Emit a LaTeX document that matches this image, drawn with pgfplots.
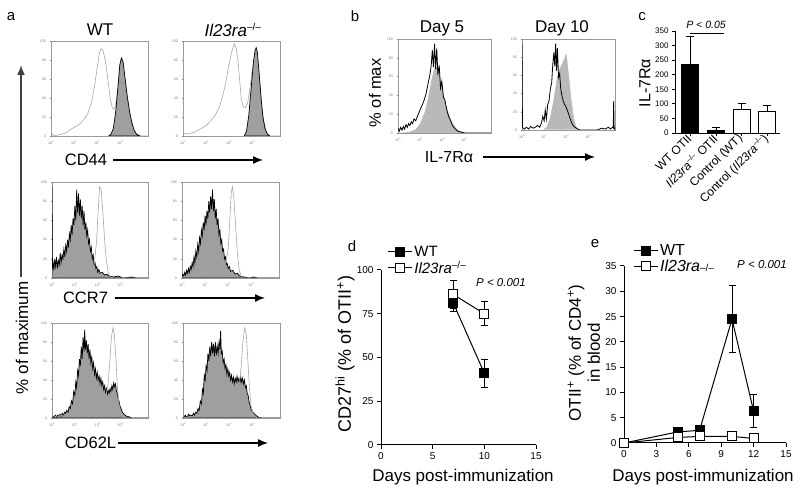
\documentclass[border=0pt]{standalone}
\usepackage{pgfplots}
\pgfplotsset{compat=1.18}
\usepackage{fontspec}
\setmainfont{Liberation Sans}
\usetikzlibrary{arrows.meta}
\newcommand{\fs}[1]{\fontsize{#1}{#1}\selectfont}
\pgfplotsset{
 hist/.style={scale only axis, xmin=0, xmax=4.2, ymin=0, ymax=100,
  xtick={0,1,2,3}, xticklabels={10\textsuperscript{0},10\textsuperscript{1},10\textsuperscript{2},10\textsuperscript{3}},
  ytick={0,20,40,60,80,100}, tick pos=left, tick align=outside, major tick length=1.5pt,
  tick style={gray, line width=0.3pt}, axis line style={gray!80, line width=0.6pt},
  tick label style={font=\fs{3.6}, text=gray}, xticklabel style={yshift=0.5pt},
  /pgf/number format/assume math mode=true, anchor=south west},
 filledh/.style={draw=black, fill=gray!75, line width=0.7pt},
 grayh/.style={gray!70, line width=0.6pt},
 graph/.style={scale only axis, anchor=south west, axis lines*=left, axis line style={line width=1pt,-},
  tick align=outside, major tick length=4pt, tick style={line width=1pt, black},
  tick label style={font=\fs{10}}, /pgf/number format/assume math mode=true, clip=false,
  legend style={draw=none, fill=none, font=\fs{15}, row sep=-1pt, inner sep=0pt, anchor=north west},
  legend cell align=left,
  legend image code/.code={\draw[##1, mark repeat=2, mark phase=2] plot coordinates {(0pt,0pt)(12pt,0pt)(24pt,0pt)};}},
 ebar/.style={error bars/.cd, y dir=both, y explicit, error bar style={line width=1pt, solid},
  error mark options={rotate=90, mark size=3.5pt, line width=1pt}}
}
\begin{document}
\begin{tikzpicture}[x=1pt,y=1pt]
\useasboundingbox (0,0) rectangle (800,494);
% ---------------- panel a
\node[font=\fs{15}] at (11,477) {a};
\node[font=\fs{17}] at (100,464) {WT};
\node[font=\fs{17}] at (233,464) {\textit{Il23ra}\textsuperscript{\fs{10}–/–}};
\begin{axis}[hist, width=97pt, height=95pt, at={(51pt,358pt)}]
\addplot[grayh] coordinates {(0,14)(0.03,3)(0.1,0)(0.3,1)(0.5,2)(0.7,4)(0.85,7)(1.0,9)(1.15,11)(1.3,14)(1.45,18)(1.6,24)(1.75,35)(1.9,55)(2.0,72)(2.1,88)(2.17,92)(2.25,90)(2.35,80)(2.45,62)(2.55,42)(2.65,30)(2.72,28)(2.8,32)(2.9,52)(2.98,75)(3.05,82)(3.12,78)(3.2,62)(3.3,42)(3.4,26)(3.5,14)(3.6,6)(3.7,2)(3.85,0)(4.2,0)};
\addplot[filledh] coordinates {(2.5,0)(2.6,2)(2.7,8)(2.8,25)(2.9,52)(2.98,75)(3.05,82)(3.12,78)(3.2,62)(3.3,42)(3.4,26)(3.5,14)(3.6,6)(3.7,2)(3.85,0)} \closedcycle;
\end{axis}
\begin{axis}[hist, width=97pt, height=95pt, at={(183pt,358pt)}]
\addplot[grayh] coordinates {(0,32)(0.03,3)(0.2,2)(0.5,4)(0.8,8)(1.0,11)(1.2,16)(1.4,22)(1.6,32)(1.8,50)(1.95,70)(2.1,88)(2.22,97)(2.3,93)(2.38,80)(2.45,60)(2.52,40)(2.6,31)(2.7,30)(2.8,35)(2.9,50)(3.0,70)(3.08,80)(3.18,85)(3.25,75)(3.33,55)(3.42,30)(3.5,15)(3.6,5)(3.72,0)(4.2,0)};
\addplot[filledh] coordinates {(2.65,0)(2.75,5)(2.85,22)(2.95,50)(3.05,78)(3.12,90)(3.17,93)(3.22,88)(3.3,65)(3.38,40)(3.46,20)(3.55,8)(3.65,2)(3.75,0)} \closedcycle;
\end{axis}
\begin{axis}[hist, width=96pt, height=96pt, at={(52pt,216pt)}]
\addplot[filledh] coordinates {(0,95)(0.02,10)(0.04,18)(0.08,8)(0.12,20)(0.16,12)(0.2,22)(0.24,10)(0.28,18)(0.32,14)(0.36,26)(0.4,16)(0.44,24)(0.48,20)(0.52,30)(0.56,22)(0.6,34)(0.64,28)(0.68,40)(0.72,32)(0.76,46)(0.8,40)(0.84,55)(0.88,45)(0.92,62)(0.96,55)(1.0,75)(1.04,60)(1.08,92)(1.12,68)(1.16,88)(1.2,65)(1.24,82)(1.28,62)(1.32,75)(1.36,55)(1.4,70)(1.44,50)(1.48,58)(1.52,44)(1.56,50)(1.6,36)(1.64,40)(1.68,28)(1.72,32)(1.76,20)(1.8,24)(1.84,14)(1.88,16)(1.92,10)(1.96,12)(2.0,6)(2.05,9)(2.1,5)(2.2,6)(2.3,3)(2.4,4)(2.5,2)(2.7,1)(2.9,2)(3.1,0)(3.5,1)(3.7,0)(4.2,0)} \closedcycle;
\addplot[grayh] coordinates {(0,1)(0.5,3)(1.0,6)(1.4,9)(1.7,11)(1.85,15)(1.95,38)(2.02,70)(2.08,95)(2.15,92)(2.22,70)(2.3,40)(2.38,18)(2.46,6)(2.55,1)(2.7,0)(4.2,0)};
\end{axis}
\begin{axis}[hist, width=97pt, height=96pt, at={(182pt,216pt)}]
\addplot[filledh] coordinates {(0,0)(0.04,4)(0.08,2)(0.12,6)(0.16,3)(0.2,8)(0.24,5)(0.28,10)(0.32,6)(0.36,12)(0.4,9)(0.44,16)(0.48,12)(0.52,22)(0.56,16)(0.6,28)(0.64,22)(0.68,35)(0.72,28)(0.76,42)(0.8,36)(0.84,50)(0.88,44)(0.92,58)(0.96,50)(1.0,65)(1.04,55)(1.08,70)(1.12,62)(1.16,80)(1.2,68)(1.24,85)(1.28,72)(1.32,92)(1.36,70)(1.4,82)(1.44,62)(1.48,72)(1.52,55)(1.56,62)(1.6,45)(1.64,50)(1.68,36)(1.72,40)(1.76,28)(1.8,30)(1.84,20)(1.88,22)(1.92,14)(1.96,15)(2.0,10)(2.05,12)(2.1,7)(2.2,8)(2.3,4)(2.4,5)(2.5,2)(2.7,1)(2.9,0)(3.1,1)(3.3,0)(4.2,0)} \closedcycle;
\addplot[grayh] coordinates {(0,1)(0.5,2)(1.0,5)(1.4,9)(1.7,13)(1.9,17)(2.0,30)(2.07,60)(2.13,88)(2.18,95)(2.24,85)(2.32,55)(2.4,25)(2.48,8)(2.56,2)(2.7,0)(4.2,0)};
\end{axis}
\begin{axis}[hist, width=96pt, height=95pt, at={(52pt,76pt)}]
\addplot[filledh] coordinates {(0,0)(0.05,2)(0.1,1)(0.15,3)(0.2,1)(0.25,3)(0.3,2)(0.35,4)(0.4,2)(0.45,5)(0.5,3)(0.55,6)(0.6,5)(0.65,8)(0.7,6)(0.75,12)(0.8,10)(0.85,18)(0.9,15)(0.95,28)(1.0,24)(1.04,38)(1.08,32)(1.12,50)(1.16,45)(1.2,62)(1.24,55)(1.28,75)(1.32,62)(1.36,85)(1.4,70)(1.43,93)(1.46,72)(1.5,82)(1.54,68)(1.58,78)(1.62,62)(1.66,72)(1.7,58)(1.74,64)(1.78,52)(1.82,58)(1.86,46)(1.9,52)(1.94,42)(1.98,48)(2.02,40)(2.06,44)(2.1,36)(2.14,42)(2.18,34)(2.22,38)(2.26,30)(2.3,34)(2.34,27)(2.38,31)(2.42,25)(2.46,29)(2.5,26)(2.54,31)(2.58,28)(2.62,34)(2.66,30)(2.7,37)(2.74,33)(2.78,36)(2.82,28)(2.86,26)(2.9,20)(2.94,17)(2.98,12)(3.02,10)(3.08,6)(3.15,4)(3.25,2)(3.4,1)(3.5,0)(4.2,0)} \closedcycle;
\addplot[grayh] coordinates {(0,1)(0.5,3)(0.8,5)(1.0,8)(1.2,10)(1.4,9)(1.6,8)(1.8,9)(2.0,12)(2.2,17)(2.35,23)(2.45,35)(2.53,60)(2.6,85)(2.67,95)(2.73,88)(2.8,60)(2.87,30)(2.94,12)(3.03,4)(3.15,0)(4.2,0)};
\end{axis}
\begin{axis}[hist, width=97pt, height=95pt, at={(183pt,76pt)}]
\addplot[filledh] coordinates {(0,0)(0.05,1)(0.1,3)(0.15,1)(0.2,2)(0.25,4)(0.3,2)(0.35,3)(0.4,2)(0.45,5)(0.5,3)(0.55,6)(0.6,5)(0.65,10)(0.7,8)(0.75,18)(0.8,15)(0.84,30)(0.88,26)(0.92,45)(0.96,40)(1.0,55)(1.04,50)(1.08,68)(1.12,60)(1.16,75)(1.2,65)(1.24,80)(1.28,68)(1.32,78)(1.36,65)(1.4,80)(1.44,66)(1.48,76)(1.52,68)(1.56,80)(1.6,72)(1.63,92)(1.66,68)(1.7,70)(1.74,58)(1.78,62)(1.82,52)(1.86,56)(1.9,46)(1.94,52)(1.98,44)(2.02,48)(2.06,40)(2.1,45)(2.14,38)(2.18,43)(2.22,36)(2.26,42)(2.3,38)(2.34,44)(2.38,38)(2.42,42)(2.46,36)(2.5,43)(2.54,38)(2.58,42)(2.62,36)(2.66,40)(2.7,32)(2.74,34)(2.78,26)(2.82,24)(2.86,17)(2.9,14)(2.95,9)(3.0,7)(3.1,4)(3.25,1)(3.4,0)(4.2,0)} \closedcycle;
\addplot[grayh] coordinates {(0,0)(0.5,2)(1.0,5)(1.3,8)(1.6,8)(1.9,10)(2.1,14)(2.3,20)(2.42,30)(2.52,55)(2.6,82)(2.67,95)(2.74,88)(2.81,60)(2.88,30)(2.95,12)(3.05,4)(3.2,0)(4.2,0)};
\end{axis}
\node[font=\fs{16.5}] at (86,334) {CD44};
\draw[line width=1.4pt, -{Latex[length=10pt,width=8pt]}] (113,334) -- (263,334);
\node[font=\fs{16.5}] at (85.5,196) {CCR7};
\draw[line width=1.4pt, -{Latex[length=10pt,width=8pt]}] (115,196) -- (265,196);
\node[font=\fs{16.5}] at (90.5,51) {CD62L};
\draw[line width=1.4pt, -{Latex[length=10pt,width=8pt]}] (118,51) -- (268,51);
\draw[line width=1.8pt, black!75, -{Latex[length=10pt,width=8pt]}] (21,217) -- (21,429);
\node[font=\fs{17}, rotate=90] at (22,156) {\% of maximum};
% ---------------- panel b
\node[font=\fs{15}] at (355,478) {b};
\node[font=\fs{17}] at (442,466) {Day 5};
\node[font=\fs{17}] at (562,466) {Day 10};
\begin{axis}[hist, width=93pt, height=94pt, at={(398pt,361pt)}]
\addplot[draw=none, fill=gray!55] coordinates {(0,0)(0.5,1)(0.8,4)(1.0,10)(1.2,22)(1.35,36)(1.5,55)(1.6,66)(1.7,72)(1.8,68)(1.9,60)(2.0,48)(2.1,37)(2.2,27)(2.35,16)(2.5,9)(2.7,3)(2.9,1)(3.1,0)(4.2,0)} \closedcycle;
\addplot[black, line width=0.8pt] coordinates {(0,5)(0.06,2)(0.12,6)(0.18,3)(0.24,7)(0.3,4)(0.36,9)(0.42,6)(0.48,10)(0.54,8)(0.6,12)(0.66,10)(0.72,15)(0.8,13)(0.88,18)(0.95,22)(1.02,26)(1.1,30)(1.18,35)(1.25,40)(1.32,48)(1.38,55)(1.44,62)(1.5,72)(1.55,88)(1.6,70)(1.65,95)(1.7,68)(1.75,90)(1.8,62)(1.86,72)(1.92,48)(1.98,55)(2.05,38)(2.12,35)(2.2,25)(2.28,18)(2.36,14)(2.44,9)(2.52,6)(2.6,4)(2.7,2)(2.85,1)(3.0,0)(4.2,0)};
\end{axis}
\begin{axis}[hist, width=93pt, height=91pt, at={(522pt,364pt)}]
\addplot[draw=white, line width=0.8pt, fill=gray!55] coordinates {(0.9,0)(1.1,4)(1.25,14)(1.38,30)(1.48,45)(1.56,58)(1.64,66)(1.72,70)(1.8,74)(1.88,78)(1.95,84)(2.0,86)(2.06,78)(2.12,64)(2.2,45)(2.28,28)(2.36,14)(2.45,5)(2.55,1)(2.65,0)} \closedcycle;
\addplot[black, line width=0.8pt] coordinates {(0,95)(0.02,3)(0.1,1)(0.2,3)(0.3,1)(0.4,4)(0.5,2)(0.6,3)(0.7,5)(0.8,3)(0.88,8)(0.94,15)(1.0,10)(1.05,22)(1.1,12)(1.16,28)(1.22,32)(1.28,45)(1.34,52)(1.39,72)(1.44,85)(1.48,70)(1.52,95)(1.56,65)(1.6,90)(1.65,58)(1.7,62)(1.75,45)(1.8,38)(1.86,32)(1.92,28)(1.98,26)(2.04,22)(2.1,18)(2.18,12)(2.26,7)(2.34,4)(2.45,2)(2.6,0)(3.4,0)(3.6,2)(3.75,1)(3.9,3)(4.0,1)(4.08,3)(4.12,2)(4.14,32)(4.16,3)(4.2,0)};
\end{axis}
\node[font=\fs{16.5}, rotate=90] at (375,401) {\% of max};
\node[font=\fs{16}] at (449,337) {IL-7Rα};
\draw[line width=1.4pt, -{Latex[length=10pt,width=8pt]}] (483,337) -- (595,337);
% ---------------- panel c
\node[font=\fs{15}] at (642,477) {c};
\begin{axis}[scale only axis, anchor=south west, width=105pt, height=102pt, at={(675pt,361pt)},
 xmin=-0.6, xmax=3.5, ymin=0, ymax=350, axis lines*=left, axis line style={line width=0.8pt,-},
 ytick={0,50,...,350}, xtick={0,1,2,3},
 xticklabels={WT OTII, \textit{Il23ra}\textsuperscript{\fs{7.5}–/–} OTII, Control (WT), Control (\textit{Il23ra}\textsuperscript{\fs{7.5}–/–})},
 xticklabel style={rotate=45, anchor=east, font=\fs{12}, inner sep=1pt},
 yticklabel style={font=\fs{8}}, tick align=outside, major tick length=3pt,
 tick style={black, line width=0.8pt}, /pgf/number format/assume math mode=true, clip=false]
\addplot[ybar, bar shift=0pt, bar width=17pt, fill=black, draw=black, line width=0.8pt,
 error bars/.cd, y dir=plus, y explicit, error bar style={line width=0.8pt},
 error mark options={rotate=90, mark size=4pt, line width=0.8pt}] coordinates {(0,235) +- (0,98) (1,10) +- (0,8)};
\addplot[ybar, bar shift=0pt, bar width=17pt, fill=white, draw=black, line width=0.8pt,
 error bars/.cd, y dir=plus, y explicit, error bar style={line width=0.8pt},
 error mark options={rotate=90, mark size=4pt, line width=0.8pt}] coordinates {(2,80) +- (0,21) (3,75) +- (0,18)};
\addplot[black, line width=0.8pt] coordinates {(0,341)(1.3,341)};
\end{axis}
\node[font=\fs{10.5}\itshape] at (706,469) {P < 0.05};
\node[font=\fs{16}, rotate=90] at (645,411) {IL-7Rα};
% ---------------- panel d
\node[font=\fs{15}] at (352,248) {d};
\begin{axis}[graph, width=155pt, height=175pt, at={(381pt,49pt)}, xmin=0, xmax=15, ymin=0, ymax=100,
 xtick={0,5,10,15}, ytick={0,25,50,75,100}, legend style={at={(0.04,1.15)}}]
\addplot[black, line width=1pt, mark=square*, mark size=4.5pt, mark options={fill=black, solid}, ebar]
 coordinates {(7,81) +- (0,5) (10,41) +- (0,8)};
\addlegendentry{WT}
\addplot[black, line width=1pt, mark=square*, mark size=4.5pt, mark options={fill=white, solid}, ebar]
 coordinates {(7,86) +- (0,8) (10,75) +- (0,7)};
\addlegendentry{\textit{Il23ra}\textsuperscript{\fs{10}–/–}}
\end{axis}
\node[font=\fs{11.5}\itshape] at (501,211) {P < 0.001};
\node[font=\fs{18}, rotate=90] at (345,140) {CD27\textsuperscript{hi} (\% of OTII\textsuperscript{+})};
\node[font=\fs{17}] at (463,17) {Days post-immunization};
% ---------------- panel e
\node[font=\fs{15}] at (595,250) {e};
\begin{axis}[graph, width=162pt, height=177pt, at={(624pt,51pt)}, xmin=0, xmax=15, ymin=0, ymax=35,
 xtick={0,3,6,9,12,15}, ytick={0,5,...,35}, legend style={at={(0.055,1.135)}, font=\fs{16}}]
\addplot[black, line width=1pt, mark=square*, mark size=4.5pt, mark options={fill=black, solid}, ebar]
 coordinates {(0,0) +- (0,0) (5,2.2) +- (0,0.3) (7,2.5) +- (0,0.3) (10,24.5) +- (0,6.7) (12,6.3) +- (0,3.3)};
\addlegendentry{WT}
\addplot[black, line width=1pt, mark=square*, mark size=4.5pt, mark options={fill=white, solid}, ebar]
 coordinates {(0,0) +- (0,0) (5,1.1) +- (0,0.3) (7,1.3) +- (0,0.3) (10,1.3) +- (0,0.3) (12,0.9) +- (0,0.3)};
\addlegendentry{\textit{Il23ra}{\fs{10}–/–}}
\end{axis}
\node[font=\fs{11.5}\itshape] at (762,229) {P < 0.001};
\node[font=\fs{17}, rotate=90, align=center] at (584,141) {OTII\textsuperscript{+} (\% of CD4\textsuperscript{+})\\[2pt] in blood};
\node[font=\fs{17}] at (703,17) {Days post-immunization};
\end{tikzpicture}
\end{document}
